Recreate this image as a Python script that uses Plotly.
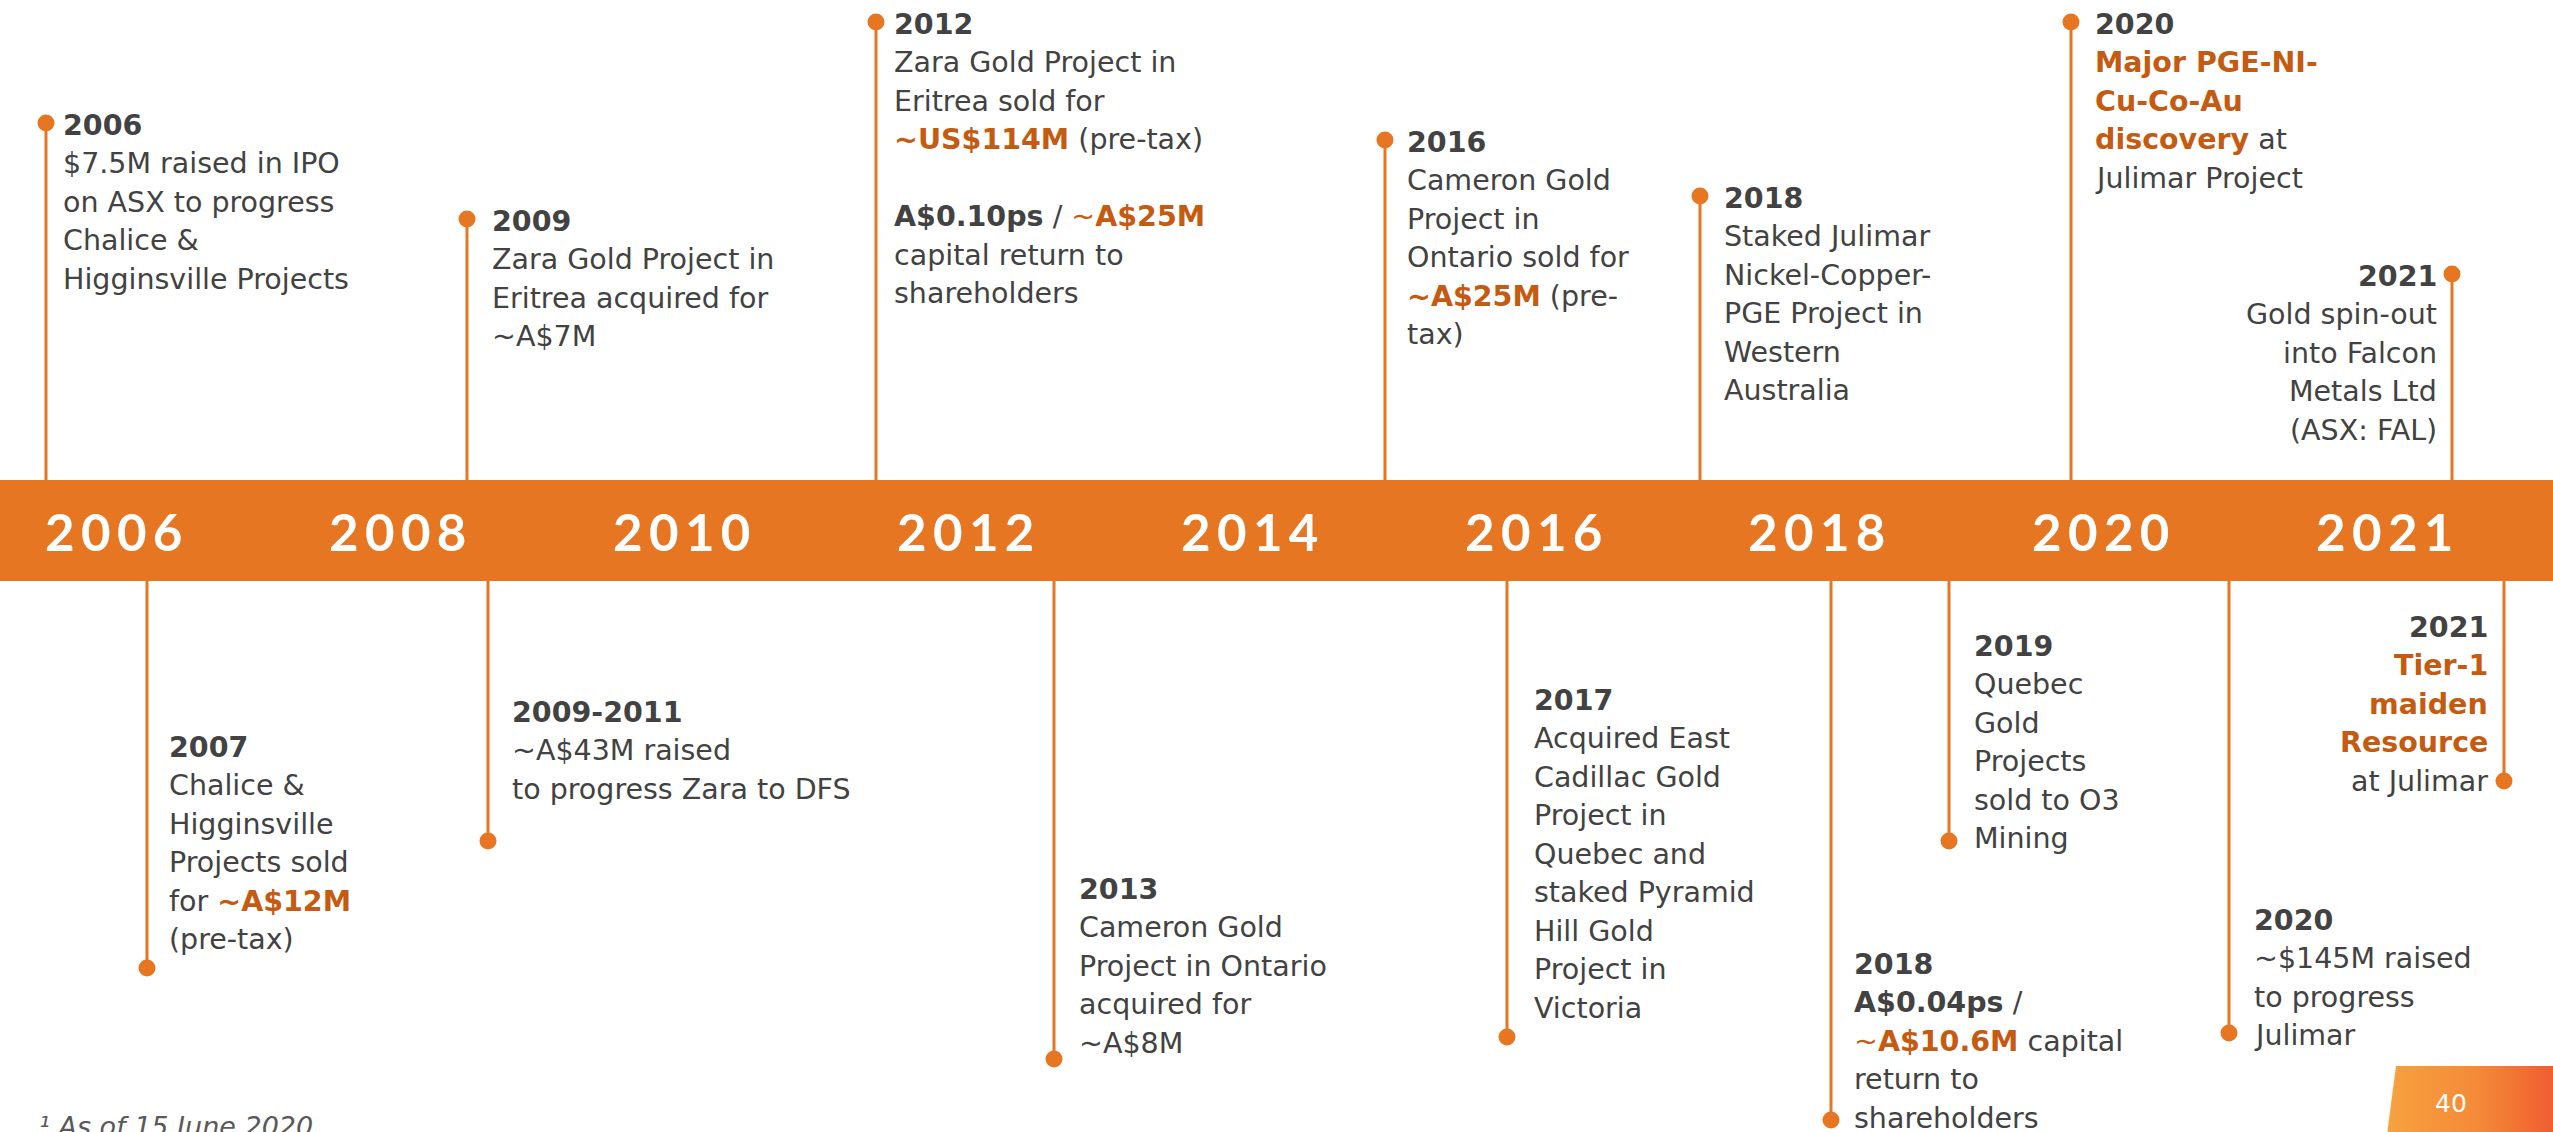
import plotly.graph_objects as go

# ---------------- data ----------------
band_years = ["2006", "2008", "2010", "2012", "2014", "2016", "2018", "2020", "2021"]

ORANGE_TXT = "#C55A11"


def hi(s, bold=True):
    s2 = f"<b>{s}</b>" if bold else s
    return f"<span style='color:{ORANGE_TXT}'>{s2}</span>"


top_years = ["2006", "2009", "2012", "2016", "2018", "2020", "2021"]
top_lines = [
    ["$7.5M raised in IPO", "on ASX to progress", "Chalice &", "Higginsville Projects"],
    ["Zara Gold Project in", "Eritrea acquired for", "~A$7M"],
    ["Zara Gold Project in", "Eritrea sold for", hi("~US$114M") + " (pre-tax)", "",
     "<b>A$0.10ps</b> / " + hi("~", False) + hi("A$25M"), "capital return to", "shareholders"],
    ["Cameron Gold", "Project in", "Ontario sold for", hi("~A$25M") + " (pre-", "tax)"],
    ["Staked Julimar", "Nickel-Copper-", "PGE Project in", "Western", "Australia"],
    [hi("Major PGE-NI-"), hi("Cu-Co-Au"), hi("discovery") + " at", "Julimar Project"],
    ["Gold spin-out", "into Falcon", "Metals Ltd", "(ASX: FAL)"],
]

bottom_years = ["2007", "2009-2011", "2013", "2017", "2018", "2019", "2020", "2021"]
bottom_lines = [
    ["Chalice &", "Higginsville", "Projects sold", "for " + hi("~A$12M"), "(pre-tax)"],
    ["~A$43M raised", "to progress Zara to DFS"],
    ["Cameron Gold", "Project in Ontario", "acquired for", "~A$8M"],
    ["Acquired East", "Cadillac Gold", "Project in", "Quebec and", "staked Pyramid",
     "Hill Gold", "Project in", "Victoria"],
    ["<b>A$0.04ps</b> /", hi("~", False) + hi("A$10.6M") + " capital", "return to", "shareholders"],
    ["Quebec", "Gold", "Projects", "sold to O3", "Mining"],
    ["~$145M raised", "to progress", "Julimar"],
    [hi("Tier-1"), hi("maiden"), hi("Resource"), "at Julimar"],
]

footnote = "¹ As of 15 June 2020"
page_number = "40"

# ---------------- layout (pixel geometry) ----------------
W, H = 2553, 1132
BAND_TOP, BAND_BOTTOM = 480, 581
LINE_GAP = 38.5
BAND_X0, BAND_STEP = 113.5, 283.9

top_stem_x = [46, 467, 876, 1385, 1700, 2071, 2452]
top_dot_y = [123, 219, 22, 140, 196, 22, 274]
top_text_x = [61, 490, 892, 1405, 1722, 2093, 2439]
top_align = ["left"] * 6 + ["right"]

bottom_stem_x = [147, 488, 1054, 1507, 1831, 1949, 2229, 2504]
bottom_dot_y = [968, 841, 1059, 1037, 1120, 841, 1033, 781]
bottom_head_y = [747, 712, 889, 700, 964, 646, 920, 627]
bottom_text_x = [167, 510, 1077, 1532, 1852, 1972, 2252, 2490]
bottom_align = ["left"] * 7 + ["right"]

ORANGE = "#E67622"
DARK = "#424242"
BODY_FONT = "DejaVu Sans"
FS = 28.5

fig = go.Figure()

# stems
sx, sy = [], []
for x, y in zip(top_stem_x, top_dot_y):
    sx += [x, x, None]
    sy += [y, BAND_TOP, None]
for x, y in zip(bottom_stem_x, bottom_dot_y):
    sx += [x, x, None]
    sy += [BAND_BOTTOM, y, None]
fig.add_trace(go.Scatter(x=sx, y=sy, mode="lines", line=dict(color=ORANGE, width=3),
                         hoverinfo="skip", showlegend=False))
# dots
fig.add_trace(go.Scatter(x=top_stem_x + bottom_stem_x, y=top_dot_y + bottom_dot_y,
                         mode="markers", marker=dict(color=ORANGE, size=17, line=dict(width=0)),
                         hoverinfo="skip", showlegend=False))

# page number box with gradient
fig.add_trace(go.Scatter(x=[2396, 2570, 2570, 2385, 2396], y=[1066, 1066, 1150, 1150, 1066],
                         mode="lines", line=dict(width=0), fill="toself",
                         fillgradient=dict(type="horizontal",
                                           colorscale=[[0, "#F7A23F"], [0.5, "#F48A38"], [1, "#EE542F"]]),
                         hoverinfo="skip", showlegend=False))

# band
fig.add_shape(type="rect", x0=-20, x1=W + 30, y0=BAND_TOP, y1=BAND_BOTTOM,
              fillcolor=ORANGE, line=dict(width=0), layer="below")

annotations = []
HS = "\u200a"
for i, yr in enumerate(band_years):
    annotations.append(dict(x=BAND_X0 + i * BAND_STEP, y=(BAND_TOP + BAND_BOTTOM) / 2 + 1,
                            text="<b>" + (HS + HS).join(yr) + "</b>", showarrow=False,
                            xanchor="center", yanchor="middle",
                            font=dict(family="Lato", size=51, color="white")))


def add_event(year, lines, tx, hy, align):
    anchor = "left" if align == "left" else "right"
    annotations.append(dict(x=tx, y=hy, text=f"<b>{year}</b>", showarrow=False,
                            xanchor=anchor, yanchor="middle",
                            font=dict(family=BODY_FONT, size=FS, color=DARK)))
    for k, ln in enumerate(lines):
        if not ln:
            continue
        annotations.append(dict(x=tx, y=hy + (k + 1) * LINE_GAP, text=ln, showarrow=False,
                                xanchor=anchor, yanchor="middle",
                                font=dict(family=BODY_FONT, size=FS, color=DARK)))


for yr, lines, tx, dy, al in zip(top_years, top_lines, top_text_x, top_dot_y, top_align):
    add_event(yr, lines, tx, dy + 2, al)
for yr, lines, tx, hy, al in zip(bottom_years, bottom_lines, bottom_text_x, bottom_head_y, bottom_align):
    add_event(yr, lines, tx, hy, al)

annotations.append(dict(x=37, y=1126, text="<i>" + footnote + "</i>", showarrow=False,
                        xanchor="left", yanchor="middle",
                        font=dict(family=BODY_FONT, size=27, color="#595959")))
annotations.append(dict(x=2451, y=1103, text=page_number, showarrow=False,
                        xanchor="center", yanchor="middle",
                        font=dict(family=BODY_FONT, size=25, color="white")))

fig.update_layout(
    width=W, height=H,
    margin=dict(l=0, r=0, t=0, b=0),
    paper_bgcolor="white", plot_bgcolor="white",
    xaxis=dict(range=[0, W], visible=False, fixedrange=True),
    yaxis=dict(range=[H, 0], visible=False, fixedrange=True),
    annotations=annotations,
    showlegend=False,
    hovermode=False,
)

fig.write_html("out.html",
               config={"displayModeBar": False, "staticPlot": True},
               post_script="document.body.style.margin='0';document.body.style.overflow='hidden';")
